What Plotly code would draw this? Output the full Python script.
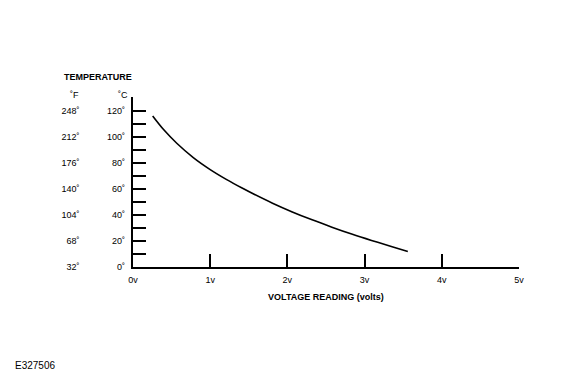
import plotly.graph_objects as go

# Data
volts = [0.256, 0.397, 0.568, 0.782, 0.996, 1.209, 1.414, 1.551, 1.808, 2.064, 2.321, 2.577, 2.833, 3.090, 3.346, 3.560]
temp_c = [115.9, 105.5, 95.0, 84.0, 75.0, 67.3, 60.6, 56.4, 49.0, 42.3, 36.2, 30.6, 25.3, 20.4, 15.8, 11.9]

x_tickvals = [0, 1, 2, 3, 4, 5]
x_ticktext = ["0v", "1v", "2v", "3v", "4v", "5v"]
y_tickvals = [0, 10, 20, 30, 40, 50, 60, 70, 80, 90, 100, 110, 120]
c_ticktext = ["0˚", "", "20˚", "", "40˚", "", "60˚", "", "80˚", "", "100˚", "", "120˚"]
f_tickvals = [0, 20, 40, 60, 80, 100, 120]
f_ticktext = ["32˚", "68˚", "104˚", "140˚", "176˚", "212˚", "248˚"]

FONT = "Liberation Sans, Arial, sans-serif"
OFF = 8  # page body margin
W, H = 580 - OFF, 379 - OFF
ML = 12
plot_left = 129 - OFF
plot_right = 519 - OFF
plot_top = 97 - OFF
plot_bottom = 267.3 - OFF
MR = W - plot_right
MT = plot_top
MB = H - plot_bottom
pw = W - ML - MR
xdom0 = (plot_left - ML) / pw
f_pos = (75 - OFF - ML) / pw


def px(xp):
    return (xp - OFF - ML) / pw


fig = go.Figure()
fig.add_trace(go.Scatter(x=volts, y=temp_c, mode="lines", line=dict(color="black", width=1.6, shape="spline"),
                         showlegend=False, hoverinfo="skip"))
# invisible trace for the Fahrenheit axis
fig.add_trace(go.Scatter(x=[None], y=[None], yaxis="y2", showlegend=False, hoverinfo="skip"))

fig.update_layout(
    width=W, height=H,
    margin=dict(l=ML, r=MR, t=MT, b=MB, pad=0),
    paper_bgcolor="white", plot_bgcolor="white",
    font=dict(family=FONT, color="black", size=9),
    xaxis=dict(domain=[xdom0, 1], range=[0, 5], showgrid=False, zeroline=False,
               showline=True, linecolor="black", linewidth=2,
               ticks="inside", ticklen=13, tickwidth=2, tickcolor="black",
               tickvals=x_tickvals, ticktext=x_ticktext, tickfont=dict(size=9),
               ticklabelstandoff=3,
               title=dict(text="<b>VOLTAGE READING (volts)</b>", font=dict(size=9), standoff=10)),
    yaxis=dict(range=[0, 130.5], showgrid=False, zeroline=False,
               showline=True, linecolor="black", linewidth=2,
               ticks="inside", ticklen=13, tickwidth=2, tickcolor="black",
               tickvals=y_tickvals, ticktext=c_ticktext, tickfont=dict(size=9),
               ticklabelstandoff=4),
    yaxis2=dict(overlaying="y", matches="y", anchor="free", position=f_pos, side="left",
                showgrid=False, zeroline=False, showline=False, ticks="",
                tickvals=f_tickvals, ticktext=f_ticktext, tickfont=dict(size=9)),
    annotations=[
        dict(text="<b>TEMPERATURE</b>", xref="paper", yref="paper", x=px(57), xanchor="left",
             y=1, yanchor="bottom", yshift=13, showarrow=False, font=dict(size=9)),
        dict(text="˚F", xref="paper", yref="paper", x=px(70), xanchor="center",
             y=1, yanchor="bottom", yshift=-5, showarrow=False, font=dict(size=9)),
        dict(text="˚C", xref="paper", yref="paper", x=px(119), xanchor="center",
             y=1, yanchor="bottom", yshift=-5, showarrow=False, font=dict(size=9)),
        dict(text="E327506", xref="paper", yref="paper", x=px(8), xanchor="left",
             y=0, yanchor="middle", yshift=-(366 - 267.3), showarrow=False, font=dict(size=10)),
    ],
)

fig.write_html("out.html")
